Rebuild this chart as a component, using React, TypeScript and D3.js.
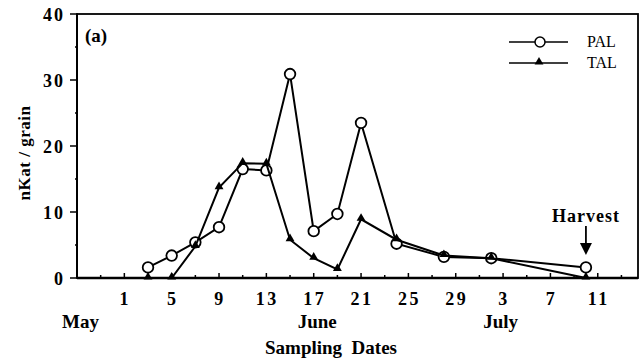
import * as React from "react"
import * as d3 from "d3"

const WIDTH = 642
const HEIGHT = 358

// days counted from June 1
const sampleDays = [2, 4, 6, 8, 10, 12, 14, 16, 18, 20, 23, 27, 31, 39]
const palValues = [1.6, 3.4, 5.4, 7.7, 16.5, 16.3, 30.9, 7.1, 9.7, 23.5, 5.2, 3.2, 3.0, 1.6]
const talValues = [0, 0, 4.8, 13.7, 17.4, 17.3, 5.8, 3.0, 1.3, 8.9, 5.8, 3.4, 3.0, 0]

const xTickDays = [0, 4, 8, 12, 16, 20, 24, 28, 32, 36, 40]
const xTickLabels = ["1", "5", "9", "13", "17", "21", "25", "29", "3", "7", "11"]
const months = [
  { name: "May", day: -3.7 },
  { name: "June", day: 16.3 },
  { name: "July", day: 31.8 },
]
const harvestDay = 39

const FONT = "'Liberation Serif', 'Times New Roman', serif"

export default function App() {
  const x = d3.scaleLinear().domain([-4, 43.4]).range([77, 638])
  const y = d3.scaleLinear().domain([0, 40]).range([278, 14])

  const minorDays = d3.range(-2, 43, 2)
  const yTicks = y.ticks(8)

  const line = d3
    .line<number>()
    .x((d, i) => x(sampleDays[i]))
    .y(d => y(d))

  const tri = d3.symbol().type(d3.symbolTriangle).size(34)()

  return (
    <svg
      width={WIDTH}
      height={HEIGHT}
      style={{ position: "absolute", left: 0, top: 0, background: "#fff" }}
      fontFamily={FONT}
    >
      {/* frame */}
      <rect x={x(-4)} y={y(40)} width={x(43.4) - x(-4)} height={y(0) - y(40)} fill="none" stroke="#000" strokeWidth={1.8} />
      <line x1={x(-4)} x2={x(43.4)} y1={y(0)} y2={y(0)} stroke="#000" strokeWidth={2.4} />
      <line x1={x(-4)} x2={x(-4)} y1={y(0)} y2={y(40)} stroke="#000" strokeWidth={2} />

      {/* y ticks */}
      {yTicks.map(t => (
        <g key={"y" + t}>
          <line
            x1={x(-4) - (t % 10 === 0 ? 7 : 2)}
            x2={x(-4) + 1}
            y1={y(t)}
            y2={y(t)}
            stroke="#000"
            strokeWidth={1.5}
          />
          {t % 10 === 0 && (
            <text x={65} y={y(t) + 6.5} textAnchor="end" fontSize={18} fontWeight="bold" letterSpacing={2}>
              {t}
            </text>
          )}
        </g>
      ))}

      {/* x ticks */}
      {minorDays.map(d => (
        <line
          key={"x" + d}
          x1={x(d)}
          x2={x(d)}
          y1={y(0)}
          y2={y(0) - (d % 4 === 0 ? 5 : 3)}
          stroke="#000"
          strokeWidth={1.5}
        />
      ))}
      {xTickDays.map((d, i) => (
        <text key={"xl" + d} x={x(d) + 1} y={305} textAnchor="middle" fontSize={18} fontWeight="bold" letterSpacing={2.5}>
          {xTickLabels[i]}
        </text>
      ))}
      {months.map(m => (
        <text key={m.name} x={x(m.day)} y={328} textAnchor="middle" fontSize={19} fontWeight="bold">
          {m.name}
        </text>
      ))}
      <text x={331} y={354} textAnchor="middle" fontSize={19} fontWeight="bold" style={{ whiteSpace: "pre" }}>
        {"Sampling  Dates"}
      </text>
      <text
        transform={`translate(30,153) rotate(-90)`}
        textAnchor="middle"
        fontSize={17}
        fontWeight="bold"
        letterSpacing={0.5}
      >
        nKat / grain
      </text>

      <text x={85} y={42} fontSize={19} fontWeight="bold">
        (a)
      </text>

      {/* series */}
      <path d={line(palValues) || ""} fill="none" stroke="#000" strokeWidth={2} />
      {palValues.map((v, i) => (
        <circle key={"p" + i} cx={x(sampleDays[i])} cy={y(v)} r={5.3} fill="#fff" stroke="#000" strokeWidth={1.8} />
      ))}
      <path d={line(talValues) || ""} fill="none" stroke="#000" strokeWidth={2} />
      {talValues.map((v, i) => (
        <path key={"t" + i} d={tri || ""} transform={`translate(${x(sampleDays[i])},${y(v) - 1})`} fill="#000" />
      ))}

      {/* legend */}
      <line x1={509} x2={568} y1={42} y2={42} stroke="#000" strokeWidth={1.5} />
      <circle cx={540} cy={42} r={5} fill="#fff" stroke="#000" strokeWidth={1.5} />
      <text x={587} y={47} fontSize={16}>
        PAL
      </text>
      <line x1={509} x2={568} y1={63} y2={63} stroke="#000" strokeWidth={1.5} />
      <path d={tri || ""} transform="translate(539,62)" fill="#000" />
      <text x={587} y={68} fontSize={16}>
        TAL
      </text>

      {/* harvest marker */}
      <text x={x(harvestDay)} y={222} textAnchor="middle" fontSize={18} fontWeight="bold" letterSpacing={1}>
        Harvest
      </text>
      <line x1={x(harvestDay)} x2={x(harvestDay)} y1={226} y2={248} stroke="#000" strokeWidth={1.8} />
      <path
        d={`M${x(harvestDay) - 6},${243} L${x(harvestDay) + 6},${243} L${x(harvestDay)},${255} Z`}
        fill="#000"
      />
    </svg>
  )
}
